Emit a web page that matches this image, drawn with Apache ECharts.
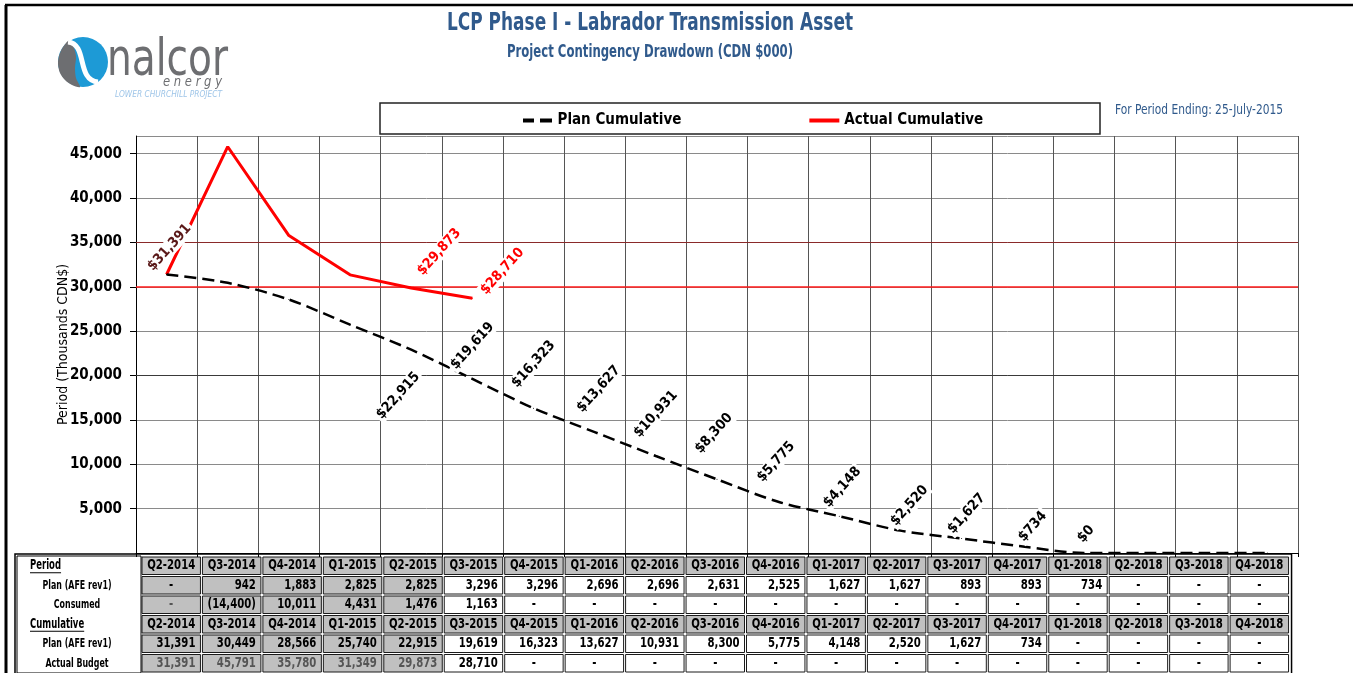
<!DOCTYPE html>
<html><head><meta charset="utf-8">
<script src="https://cdn.jsdelivr.net/npm/echarts@6/dist/echarts.min.js"></script>
<style>html,body{margin:0;padding:0;background:#fff;}#main{width:1353px;height:673px;}</style>
</head><body><div id="main"></div>
<script>
// ---------------- DATA ----------------
const categories = ['Q2-2014','Q3-2014','Q4-2014','Q1-2015','Q2-2015','Q3-2015','Q4-2015','Q1-2016','Q2-2016','Q3-2016','Q4-2016','Q1-2017','Q2-2017','Q3-2017','Q4-2017','Q1-2018','Q2-2018','Q3-2018','Q4-2018'];
const planPeriod = [0, 942, 1883, 2825, 2825, 3296, 3296, 2696, 2696, 2631, 2525, 1627, 1627, 893, 893, 734, 0, 0, 0];
const consumed = [0, -14400, 10011, 4431, 1476, 1163, 0, 0, 0, 0, 0, 0, 0, 0, 0, 0, 0, 0, 0];
const planCumulative = [31391, 30449, 28566, 25740, 22915, 19619, 16323, 13627, 10931, 8300, 5775, 4148, 2520, 1627, 734, 0, 0, 0, 0];
const actualCumulative = [31391, 45791, 35780, 31349, 29873, 28710];
const tableRowLabels = ['Period', 'Plan (AFE rev1)', 'Consumed', 'Cumulative', 'Plan (AFE rev1)', 'Actual Budget'];
const yTickInterval = 5000;
const yMax = 47000;
const highlightedGridValues = [20000, 30000, 35000];

// ---------------- STYLE / LAYOUT ----------------
const NARROW = '"Liberation Sans Narrow","Arial Narrow","DejaVu Sans Condensed",sans-serif';
const BLUE = '#305a8c';
const LABEL_ROT = 48;
const planLabelPos = {0:[3,-27],4:[-13,46],5:[0,-33],6:[0,-44],7:[4,-43],8:[0,-42],9:[-3,-46],10:[-2,-40],11:[3,-29],12:[9,-25],13:[5,-25],14:[10,-20],15:[2,-19]};
const actualLabelPos = {4:[28,-36],5:[30,-27]};
const gridLineStyles = [{color:'#3a3a3a', width:1}, {color:'#ff1a1a', width:1.6}, {color:'#8a2a2a', width:1}];

function rotOffset(s){const t=LABEL_ROT*Math.PI/180,c=Math.cos(t),si=Math.sin(t);return [c*s[0]-si*s[1], si*s[0]+c*s[1]];}
function money(v){return '$'+v.toLocaleString('en-US');}
function fmt(v){ if(v==null||v===0) return '-'; return v<0 ? '('+Math.abs(v).toLocaleString('en-US')+')' : v.toLocaleString('en-US'); }

const measureCtx = document.createElement('canvas').getContext('2d');
function textW(txt, size, weight, style){measureCtx.font=(style||'normal')+' '+(weight||'normal')+' '+size+'px '+NARROW;return measureCtx.measureText(txt).width;}
function fitText(txt, x, y, size, weight, targetW, extra){
  const s = targetW / textW(txt, size, weight, extra && extra.fontStyle);
  return {type:'text', x:x, y:y, scaleX:s, style:Object.assign({text:txt, x:0, y:0, fontFamily:NARROW, fontSize:size, fontWeight:weight||'normal', textVerticalAlign:'middle'}, extra||{})};
}

const labelBase = {position:'inside', align:'center', verticalAlign:'middle', rotate:LABEL_ROT,
  fontFamily:NARROW, fontWeight:'bold', fontSize:14, backgroundColor:'#fff', padding:[1,2],
  formatter: p => money(p.value)};

const planData = planCumulative.map((v,i)=>{
  const it={value:v};
  if(planLabelPos[i]) it.label={show:true, offset:rotOffset(planLabelPos[i]), color: i===0?'#5a1818':'#000'};
  return it;
});
const actualData = actualCumulative.map((v,i)=>{
  const it={value:v};
  if(actualLabelPos[i]) it.label={show:true, offset:rotOffset(actualLabelPos[i]), color:'#ff0000'};
  return it;
});

// ---------------- TABLE (graphic) ----------------
const tblX0 = 17, tblLabelW = 124, colW = 60.45, rowTop = 556, rowH = 19.5;
const nGray = actualCumulative.length - 1;
const valSize = 14, labSize = 13;
const sVal = 48 / textW('Q2-2014', valSize, 'bold');
const sLab = 69 / textW('Plan (AFE rev1)', labSize, 'bold');
const rows = [
  {vals: categories, header:true, underline:true},
  {vals: planPeriod.map(fmt)},
  {vals: consumed.map(fmt)},
  {vals: categories, header:true, underline:true},
  {vals: planCumulative.map(fmt)},
  {vals: categories.map((c,i)=>fmt(actualCumulative[i])), faded:true}
];
const tableEls = [];
const colX = i => tblX0 + tblLabelW + i*colW;
rows.forEach((r,ri)=>{
  const y = rowTop + ri*rowH;
  const lab = tableRowLabels[ri];
  if(r.underline){
    tableEls.push({type:'text', x:30, y:y+rowH/2, scaleX:sLab, style:{text:lab, x:0, y:0, textVerticalAlign:'middle', textAlign:'left', fontFamily:NARROW, fontWeight:'bold', fontSize:labSize+1, fill:'#000'}});
    const w = textW(lab, labSize+1, 'bold')*sLab;
    tableEls.push({type:'line', shape:{x1:30,y1:y+rowH/2+7,x2:30+w,y2:y+rowH/2+7}, style:{stroke:'#000', lineWidth:1}});
  } else {
    tableEls.push({type:'text', x:tblX0+tblLabelW/2-2, y:y+rowH/2, scaleX:sLab, style:{text:lab, x:0, y:0, textVerticalAlign:'middle', textAlign:'center', fontFamily:NARROW, fontWeight:'bold', fontSize:labSize, fill:'#000'}});
  }
  r.vals.forEach((t,ci)=>{
    const x = colX(ci);
    const gray = r.header || ci < nGray;
    tableEls.push({type:'rect', shape:{x:x+1, y:y+1, width:colW-2, height:rowH-2}, style:{fill: gray?'#c0c0c0':'#fff', stroke:'#1a1a1a', lineWidth:1}});
    const centred = r.header || t==='-';
    tableEls.push({type:'text', x: centred ? x+colW/2 : x+colW-6, y:y+rowH/2, scaleX:sVal, style:{text:t, x:0, y:0, textAlign: centred?'center':'right', textVerticalAlign:'middle',
      fontFamily:NARROW, fontWeight:'bold', fontSize:valSize, fill: (r.faded && ci<nGray) || (ri===2 && ci===0) ? '#555' : '#000'}});
  });
});
tableEls.push({type:'rect', shape:{x:tblX0, y:rowTop, width:tblLabelW, height:rowH*6}, style:{fill:'none', stroke:'#000', lineWidth:1}});
tableEls.push({type:'rect', shape:{x:tblX0-2, y:rowTop-2, width:tblLabelW+19*colW+4, height:rowH*6+6}, style:{fill:'none', stroke:'#000', lineWidth:1.5}});

// ---------------- OTHER GRAPHICS ----------------
const otherEls = [
  {type:'line', shape:{x1:5,y1:5,x2:1353,y2:5}, style:{stroke:'#000', lineWidth:2.5}},
  {type:'line', shape:{x1:6,y1:5,x2:6,y2:673}, style:{stroke:'#000', lineWidth:3}},
  {type:'rect', shape:{x:380, y:103, width:720, height:31}, style:{fill:'none', stroke:'#222', lineWidth:1.5}},
  fitText('LCP Phase I - Labrador Transmission Asset', 650, 24, 24, 'bold', 406, {textAlign:'center', fill:BLUE}),
  fitText('Project Contingency Drawdown (CDN $000)', 650, 53, 17, 'bold', 286, {textAlign:'center', fill:BLUE}),
  fitText('For Period Ending: 25-July-2015', 1115, 110, 14, 'normal', 168, {textAlign:'left', fill:BLUE}),
  // logo
  {type:'circle', shape:{cx:83, cy:62, r:25}, style:{fill:'#1d9ad6'}},
  {type:'polygon', shape:{smooth:0.3, points:[[70,40],[63,47],[59,56],[58,64],[60,73],[65,80],[72,85],[80,87],[76,78],[75,68],[76,57],[74,48]]}, style:{fill:'#6d6e71'}},
  {type:'bezierCurve', shape:{x1:68,y1:42,cpx1:88,cpy1:44,cpx2:76,cpy2:80,x2:98,y2:82}, style:{fill:'none', stroke:'#fff', lineWidth:5}},
  fitText('nalcor', 107, 61, 52, 'normal', 121, {textAlign:'left', fill:'#6d6e71'}),
  fitText('e n e r g y', 163, 82, 14, 'normal', 59, {textAlign:'left', fontStyle:'italic', fill:'#6d6e71'}),
  fitText('LOWER CHURCHILL PROJECT', 115, 95, 8, 'normal', 107, {textAlign:'left', fontStyle:'italic', fill:'#9ec5e8'})
];

const chart = echarts.init(document.getElementById('main'), null, {renderer:'canvas'});
chart.setOption({
  animation:false,
  backgroundColor:'#fff',
  legend:{left:518, top:108, itemGap:128, itemWidth:30, itemHeight:4, selectedMode:false,
    textStyle:{fontFamily:NARROW, fontWeight:'bold', fontSize:15, color:'#000'},
    data:[{name:'Plan Cumulative', icon:'path://M0,0H11V4H0Z M17,0H29V4H17Z'}, {name:'Actual Cumulative', icon:'path://M0,0H30V4H0Z'}]},
  grid:{left:136, right:55, top:136, bottom:120, containLabel:false},
  xAxis:{type:'category', data:categories, boundaryGap:true,
    axisLine:{lineStyle:{color:'#000', width:1}}, axisTick:{show:true, length:4, interval:0, lineStyle:{color:'#000'}},
    axisLabel:{show:false}, splitLine:{show:true, interval:0, lineStyle:{color:'#555', width:1}}},
  yAxis:{type:'value', min:0, max:yMax, interval:yTickInterval,
    name:'Period (Thousands CDN$)', nameLocation:'middle', nameGap:66, nameMoveOverlap:false,
    nameTextStyle:{fontFamily:NARROW, fontSize:14, color:'#000'},
    axisLine:{show:true, lineStyle:{color:'#000'}}, axisTick:{show:true, length:6, lineStyle:{color:'#000'}},
    axisLabel:{showMaxLabel:false, showMinLabel:false, margin:14, fontFamily:NARROW, fontWeight:'bold', fontSize:15, color:'#000',
      formatter:v=>v.toLocaleString('en-US')},
    splitLine:{show:true, lineStyle:{width:1, color:'#8a8a8a'}}},
  series:[
    {name:'Plan Cumulative', type:'line', data:planData, smooth:0.3, symbol:'circle', symbolSize:1, showSymbol:true,
      color:'#000', itemStyle:{color:'#000'}, lineStyle:{color:'#000', width:2.5, type:[12,6]}, label:Object.assign({show:false}, labelBase), z:5, emphasis:{disabled:true}},
    {name:'Actual Cumulative', type:'line', data:actualData, symbol:'circle', symbolSize:1, showSymbol:true,
      color:'#ff0000', itemStyle:{color:'#ff0000'}, lineStyle:{color:'#ff0000', width:3}, label:Object.assign({show:false}, labelBase), z:4, emphasis:{disabled:true},
      markLine:{silent:true, symbol:['none','none'], label:{show:false}, animation:false, z:1,
        data: highlightedGridValues.map((v,i)=>[{yAxis:v, x:136, lineStyle:Object.assign({type:'solid'}, gridLineStyles[i])},{yAxis:v, x:1298}])}}
  ],
  graphic: otherEls.concat(tableEls)
});
</script></body></html>
